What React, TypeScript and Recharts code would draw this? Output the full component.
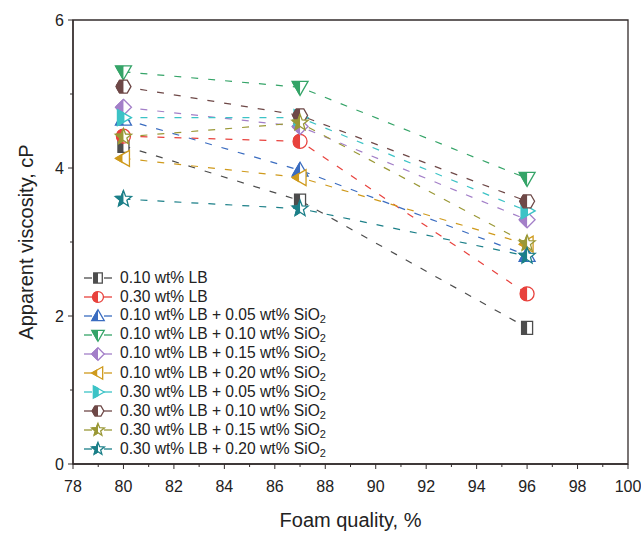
import React from "react"
import { LineChart, Line, XAxis, YAxis, ReferenceArea, Label } from "recharts"

// foam quality (%) and apparent viscosity (cP)
const quality = [80, 87, 96]
const lb010 = [4.3, 3.56, 1.84]
const lb030 = [4.43, 4.36, 2.3]
const lb010si005 = [4.66, 3.97, 2.82]
const lb010si010 = [5.3, 5.09, 3.86]
const lb010si015 = [4.82, 4.56, 3.3]
const lb010si020 = [4.13, 3.87, 2.97]
const lb030si005 = [4.68, 4.68, 3.42]
const lb030si010 = [5.1, 4.71, 3.55]
const lb030si015 = [4.42, 4.61, 2.98]
const lb030si020 = [3.58, 3.45, 2.81]

const xTicks = [78, 79, 80, 81, 82, 83, 84, 85, 86, 87, 88, 89, 90, 91, 92, 93, 94, 95, 96, 97, 98, 99, 100]
const yTicks = [0, 1, 2, 3, 4, 5, 6]

const series = [
  { key: "lb010", lb: "0.10", si: "", color: "#4d4d4d", shape: "square", values: lb010 },
  { key: "lb030", lb: "0.30", si: "", color: "#e8423d", shape: "circle", values: lb030 },
  { key: "lb010si005", lb: "0.10", si: "0.05", color: "#3a6cc0", shape: "up", values: lb010si005 },
  { key: "lb010si010", lb: "0.10", si: "0.10", color: "#35a468", shape: "down", values: lb010si010 },
  { key: "lb010si015", lb: "0.10", si: "0.15", color: "#a37fc8", shape: "diamond", values: lb010si015 },
  { key: "lb010si020", lb: "0.10", si: "0.20", color: "#cf9a1c", shape: "left", values: lb010si020 },
  { key: "lb030si005", lb: "0.30", si: "0.05", color: "#3cc3c6", shape: "right", values: lb030si005 },
  { key: "lb030si010", lb: "0.30", si: "0.10", color: "#6e4847", shape: "hexagon", values: lb030si010 },
  { key: "lb030si015", lb: "0.30", si: "0.15", color: "#9a9836", shape: "star", values: lb030si015 },
  { key: "lb030si020", lb: "0.30", si: "0.20", color: "#1b7f88", shape: "star", values: lb030si020 },
]

const data = quality.map((q, i) => {
  const row: Record<string, number> = { q }
  series.forEach((s) => (row[s.key] = s.values[i]))
  return row
})

const FONT = "'Liberation Sans', Arial, sans-serif"
const AXIS = "#332c2c"

function poly(pts: number[][]) {
  return "M" + pts.map((p) => p[0].toFixed(2) + "," + p[1].toFixed(2)).join("L") + "Z"
}

function shapePath(shape: string, cx: number, cy: number, k = 1) {
  switch (shape) {
    case "square":
      return `M${cx - 5.5 * k},${cy - 6.5 * k}h${11 * k}v${13 * k}h${-11 * k}Z`
    case "circle":
      return `M${cx - 7 * k},${cy}a${7 * k},${7 * k} 0 1,0 ${14 * k},0a${7 * k},${7 * k} 0 1,0 ${-14 * k},0Z`
    case "up":
      return poly([[cx, cy - 8 * k], [cx + 8 * k, cy + 6 * k], [cx - 8 * k, cy + 6 * k]])
    case "down":
      return poly([[cx, cy + 8 * k], [cx + 8 * k, cy - 6 * k], [cx - 8 * k, cy - 6 * k]])
    case "diamond":
      return poly([[cx, cy - 8 * k], [cx + 8 * k, cy], [cx, cy + 8 * k], [cx - 8 * k, cy]])
    case "left":
      return poly([[cx - 8 * k, cy], [cx + 6 * k, cy - 8 * k], [cx + 6 * k, cy + 8 * k]])
    case "right":
      return poly([[cx + 8 * k, cy], [cx - 6 * k, cy - 8 * k], [cx - 6 * k, cy + 8 * k]])
    case "hexagon": {
      const pts = []
      for (let i = 0; i < 6; i++) {
        const a = (Math.PI / 3) * i
        pts.push([cx + 7.5 * k * Math.cos(a), cy + 7.5 * k * Math.sin(a)])
      }
      return poly(pts)
    }
    default: {
      const pts = []
      for (let i = 0; i < 10; i++) {
        const a = -Math.PI / 2 + (Math.PI / 5) * i
        const r = (i % 2 === 0 ? 8.5 : 3.6) * k
        pts.push([cx + r * Math.cos(a), cy + r * Math.sin(a)])
      }
      return poly(pts)
    }
  }
}

function Marker({ cx, cy, shape, color, k = 1 }: any) {
  if (cx == null || cy == null) return null
  const d = shapePath(shape, cx, cy, k)
  return (
    <g>
      <defs>
        <clipPath id="lefthalf" clipPathUnits="objectBoundingBox">
          <rect x="0" y="0" width="0.5" height="1" />
        </clipPath>
      </defs>
      <path d={d} fill="#fff" stroke={color} strokeWidth={1.3} />
      <path d={d} fill={color} stroke={color} strokeWidth={1.3} clipPath="url(#lefthalf)" />
    </g>
  )
}

function XTick({ x, y, payload }: any) {
  const major = payload.value % 2 === 0
  return (
    <g>
      <line x1={x} x2={x} y1={y} y2={y + (major ? 5 : 3)} stroke={AXIS} strokeWidth={1} />
      {major && (
        <text x={x} y={y + 28} textAnchor="middle" fontSize={16} fill="#222" fontFamily={FONT}>
          {payload.value}
        </text>
      )}
    </g>
  )
}

function YTick({ x, y, payload }: any) {
  const major = payload.value % 2 === 0
  return (
    <g>
      <line x1={x} x2={x - (major ? 5 : 3)} y1={y} y2={y} stroke={AXIS} strokeWidth={1} />
      {major && (
        <text x={x - 9} y={y + 5.5} textAnchor="end" fontSize={16} fill="#222" fontFamily={FONT}>
          {payload.value}
        </text>
      )}
    </g>
  )
}

function LegendBox() {
  return (
    <div style={{ position: "absolute", left: 82, top: 268, fontFamily: FONT, fontSize: 15.6, color: "#222" }}>
      {series.map((s) => (
        <div key={s.key} style={{ display: "flex", alignItems: "center", height: 19.1 }}>
          <svg width={32} height={18} style={{ marginRight: 6 }}>
            <line x1={2} x2={10} y1={9} y2={9} stroke={s.color} strokeWidth={1.3} />
            <line x1={22} x2={30} y1={9} y2={9} stroke={s.color} strokeWidth={1.3} />
            <Marker cx={16} cy={9} shape={s.shape} color={s.color} k={0.78} />
          </svg>
          <span style={{ whiteSpace: "nowrap" }}>
            {s.lb} wt% LB
            {s.si && (
              <>
                {" + "}
                {s.si} wt% SiO
                <sub style={{ fontSize: 11, verticalAlign: -3 }}>2</sub>
              </>
            )}
          </span>
        </div>
      ))}
    </div>
  )
}

export default function App() {
  return (
    <div style={{ position: "absolute", left: 0, top: 0, width: 641, height: 535, background: "#fff" }}>
      <LineChart width={641} height={535} data={data} margin={{ top: 20, right: 13, bottom: 0, left: 0 }}>
        <XAxis
          dataKey="q"
          type="number"
          domain={[78, 100]}
          ticks={xTicks}
          interval={0}
          tickSize={0}
          tickMargin={0}
          tickLine={false}
          tick={<XTick />}
          axisLine={{ stroke: AXIS, strokeWidth: 1.3 }}
          height={71}
        >
          <Label value="Foam quality, %" position="insideBottom" offset={8} fontSize={20} fill="#222" fontFamily={FONT} />
        </XAxis>
        <YAxis
          type="number"
          domain={[0, 6]}
          ticks={yTicks}
          interval={0}
          tickSize={0}
          tickMargin={0}
          tickLine={false}
          tick={<YTick />}
          axisLine={{ stroke: AXIS, strokeWidth: 1.3 }}
          width={73}
        >
          <Label value="Apparent viscosity, cP" angle={-90} position="insideLeft" offset={26} fontSize={20} fill="#222" fontFamily={FONT} style={{ textAnchor: "middle" }} />
        </YAxis>
        <ReferenceArea x1={78} x2={100} y1={0} y2={6} fill="none" stroke={AXIS} strokeWidth={1.3} ifOverflow="visible" />
        {series.map((s) => (
          <Line
            key={s.key}
            dataKey={s.key}
            type="linear"
            stroke={s.color}
            strokeWidth={1.2}
            strokeDasharray="7 10"
            isAnimationActive={false}
            activeDot={false}
            dot={(p: any) => <Marker key={p.key ?? p.index} cx={p.cx} cy={p.cy} shape={s.shape} color={s.color} />}
          />
        ))}
      </LineChart>
      <LegendBox />
    </div>
  )
}
